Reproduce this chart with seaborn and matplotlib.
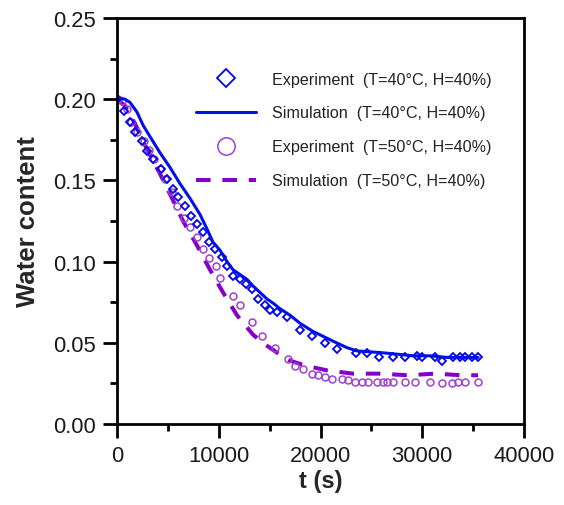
import numpy as np
import pandas as pd
import matplotlib
matplotlib.use("Agg")
import matplotlib.pyplot as plt
import seaborn as sns

# ---------------- data ----------------
exp40_t = [0, 690, 1280, 1770, 2460, 2950, 3540, 4320, 4910, 5500, 6000, 6680,
           7270, 7860, 8450, 9040, 9630, 10320, 10810, 11400, 12090, 12680,
           13270, 13860, 14550, 15040, 15720, 16710, 17990, 19160, 20440,
           21620, 23490, 24570, 25750, 27130, 28300, 29480, 29980, 31250,
           31940, 33020, 33710, 34200, 34890, 35480]
exp40_w = [0.200, 0.193, 0.186, 0.180, 0.174, 0.168, 0.163, 0.157, 0.151,
           0.145, 0.140, 0.134, 0.128, 0.123, 0.118, 0.112, 0.108, 0.103,
           0.097, 0.091, 0.089, 0.086, 0.083, 0.077, 0.073, 0.070, 0.069,
           0.066, 0.058, 0.054, 0.050, 0.046, 0.044, 0.044, 0.041, 0.041,
           0.041, 0.042, 0.041, 0.041, 0.039, 0.041, 0.041, 0.041, 0.041, 0.041]

sim40_t = [0, 790, 1280, 1970, 2560, 3240, 4230, 5210, 6190, 7170, 8160, 8850,
           9430, 10120, 10810, 11400, 12090, 12780, 13370, 14050, 14740,
           15430, 16020, 17000, 17990, 19260, 20250, 21230, 22600, 23590,
           25850, 27520, 29090, 30760, 32430, 35480]
sim40_w = [0.2007, 0.200, 0.198, 0.192, 0.184, 0.177, 0.167, 0.158, 0.148,
           0.139, 0.129, 0.120, 0.112, 0.107, 0.100, 0.095, 0.092, 0.089,
           0.085, 0.081, 0.077, 0.074, 0.071, 0.067, 0.062, 0.057, 0.054,
           0.051, 0.047, 0.045, 0.044, 0.043, 0.042, 0.042, 0.041, 0.041]

exp50_t = [100, 490, 980, 1380, 1970, 2650, 3150, 3640, 4230, 4720, 5410,
           5900, 6580, 7170, 7860, 8450, 9040, 9730, 10120, 11400, 12090,
           13270, 14250, 15530, 16810, 17490, 18280, 19160, 19760, 20440,
           21130, 22110, 22700, 23390, 24080, 24670, 25550, 26140, 26540,
           27130, 28300, 29290, 30760, 31940, 32930, 33510, 34200, 35480]
exp50_w = [0.200, 0.199, 0.194, 0.186, 0.180, 0.174, 0.169, 0.163, 0.157,
           0.151, 0.143, 0.134, 0.127, 0.121, 0.115, 0.108, 0.102, 0.097,
           0.090, 0.079, 0.073, 0.063, 0.054, 0.047, 0.040, 0.036, 0.034,
           0.031, 0.030, 0.029, 0.028, 0.028, 0.027, 0.026, 0.026, 0.026,
           0.026, 0.026, 0.026, 0.026, 0.026, 0.026, 0.026, 0.025, 0.025,
           0.026, 0.026, 0.026]

sim50_t = [0, 790, 1770, 2950, 4230, 5410, 6490, 7860, 9140, 10420, 11790,
           13370, 14550, 15720, 17000, 18480, 20640, 23190, 25850, 28600,
           31250, 33910, 35480]
sim50_w = [0.200, 0.196, 0.185, 0.169, 0.154, 0.139, 0.125, 0.110, 0.095,
           0.081, 0.067, 0.055, 0.049, 0.044, 0.039, 0.036, 0.033, 0.031,
           0.031, 0.030, 0.031, 0.030, 0.030]

labels = ["Experiment  (T=40\u00b0C, H=40%)",
          "Simulation  (T=40\u00b0C, H=40%)",
          "Experiment  (T=50\u00b0C, H=40%)",
          "Simulation  (T=50\u00b0C, H=40%)"]

x_ticks = [0, 10000, 20000, 30000, 40000]
y_ticks = [0.00, 0.05, 0.10, 0.15, 0.20, 0.25]

# ---------------- style ----------------
sns.set_style("ticks")
plt.rcParams["font.family"] = ["Liberation Sans", "DejaVu Sans"]
plt.rcParams["lines.scale_dashes"] = False

blue = "#0000F0"
blue_line = "#0010E8"
purple_c = "#A040D0"
purple_l = "#8400C8"

fig = plt.figure(figsize=(5.64, 5.06), dpi=100)
ax = fig.add_axes([117/564, 1-425/506, (524-117)/564, (425-19)/506])

df_s50 = pd.DataFrame({"t": sim50_t, "w": sim50_w})
df_e50 = pd.DataFrame({"t": exp50_t, "w": exp50_w})
df_s40 = pd.DataFrame({"t": sim40_t, "w": sim40_w})
df_e40 = pd.DataFrame({"t": exp40_t, "w": exp40_w})

sns.lineplot(data=df_s50, x="t", y="w", ax=ax, color=purple_l, lw=2.9,
             dashes=False, estimator=None, sort=False)
ax.lines[-1].set_dashes((10.5, 8.5))
sns.lineplot(data=df_e50, x="t", y="w", ax=ax, marker="o", linestyle="",
             mfc="none", mec=purple_c, ms=5.0, mew=1.1, estimator=None, sort=False)
sns.lineplot(data=df_e40, x="t", y="w", ax=ax, marker="D", linestyle="",
             mfc="none", mec=blue, ms=3.7, mew=1.3, estimator=None, sort=False)
sns.lineplot(data=df_s40, x="t", y="w", ax=ax, color=blue_line, lw=2.2,
             estimator=None, sort=False)

l_s50, l_e50, l_e40, l_s40 = ax.lines[0], ax.lines[1], ax.lines[2], ax.lines[3]

ax.set_xlim(0, 40000)
ax.set_ylim(0, 0.25)
ax.set_xticks(x_ticks)
ax.set_yticks(y_ticks)
ax.set_xticklabels([str(v) for v in x_ticks])
ax.set_yticklabels([f"{v:.2f}" for v in y_ticks])
ax.xaxis.set_minor_locator(matplotlib.ticker.MultipleLocator(5000))
ax.yaxis.set_minor_locator(matplotlib.ticker.MultipleLocator(0.025))

for s in ax.spines.values():
    s.set_linewidth(2.0)
    s.set_color("black")
ax.tick_params(which="major", direction="out", length=10, width=2.0,
               labelsize=15.8, pad=5, colors="black", labelcolor="#1a1a1a")
ax.tick_params(which="minor", direction="out", length=5, width=2.0, colors="black")
ax.tick_params(axis="both", top=False, right=False, which="both")

ax.set_xlabel("t (s)", fontsize=17, fontweight="bold", labelpad=2)
ax.set_ylabel("Water content", fontsize=18.5, fontweight="bold", labelpad=10)

leg = ax.legend([l_e40, l_s40, l_e50, l_s50], labels, loc="upper right",
                bbox_to_anchor=(0.92, 0.868), frameon=False, fontsize=11.6,
                markerscale=2.5, handlelength=3.7, handletextpad=1.0,
                labelspacing=1.17, borderpad=0, borderaxespad=0)
for t in leg.get_texts():
    t.set_color("#222222")

fig.savefig("out.png", dpi=100)
